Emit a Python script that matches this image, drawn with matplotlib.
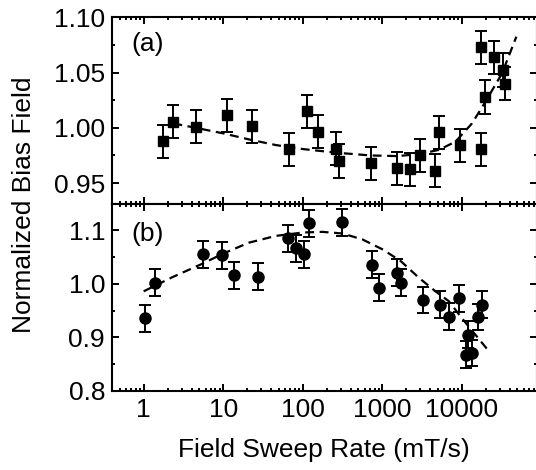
import numpy as np
import matplotlib
matplotlib.use("Agg")
import matplotlib.pyplot as plt
from matplotlib.ticker import LogLocator, MultipleLocator, NullFormatter, FixedLocator

plt.rcParams['font.family'] = ['Liberation Sans', 'DejaVu Sans']

# panel (a): squares
rate_a = [1.73, 2.36, 4.54, 11.3, 22.7, 67.3, 114, 156, 263, 285, 713, 1540,
          2220, 2935, 4570, 5230, 9410, 17400, 17400, 19800, 25100, 32900, 35200]
bias_a = [0.988, 1.0055, 1.001, 1.0113, 1.0016, 0.9805, 1.0152, 0.9965, 0.981,
          0.970, 0.9678, 0.9633, 0.9624, 0.9753, 0.9611, 0.9959, 0.9841, 0.9805,
          1.073, 1.028, 1.064, 1.0524, 1.040]
err_a = [0.015] * len(rate_a)

fit_rate_a = [2.36, 4.54, 10, 22.7, 46, 100, 263, 713, 1540, 2900, 5100, 8300,
              13400, 19800, 32000, 48400]
fit_bias_a = [1.004, 1.000, 0.995, 0.989, 0.9844, 0.9808, 0.9775, 0.975, 0.9744,
              0.9762, 0.980, 0.9874, 1.004, 1.0237, 1.0494, 1.0826]

# panel (b): circles
rate_b = [1.04, 1.39, 5.5, 9.6, 13.7, 27.7, 66, 81.7, 104, 120, 314, 746, 906,
          1540, 1700, 3230, 5280, 6850, 9140, 11900, 11400, 13400, 16000, 17900]
bias_b = [0.936, 1.002, 1.055, 1.053, 1.016, 1.013, 1.085, 1.066, 1.055, 1.113,
          1.115, 1.036, 0.993, 1.021, 1.002, 0.970, 0.961, 0.939, 0.973, 0.905,
          0.868, 0.871, 0.938, 0.961]
err_b = [0.025] * len(rate_b)

fit_rate_b = [1, 2.31, 5.5, 10, 21.2, 46, 100, 176, 314, 560, 1000, 1700, 2880,
              4660, 6850, 10000, 14800, 21100]
fit_bias_b = [0.986, 1.0126, 1.0377, 1.0565, 1.077, 1.0895, 1.0958, 1.097, 1.094,
              1.083, 1.0645, 1.0426, 1.0114, 0.986, 0.9676, 0.936, 0.905, 0.877]

fig = plt.figure(figsize=(5.36, 4.70), dpi=100)
left, right = 112 / 536, 537 / 536
ax1 = fig.add_axes([left, 1 - 204 / 470, right - left, (204 - 17.5) / 470])
ax2 = fig.add_axes([left, 1 - 391 / 470, right - left, (391 - 204) / 470])

for ax in (ax1, ax2):
    ax.set_xscale('log')
    ax.set_xlim(0.4, 88000)
    ax.xaxis.set_major_locator(FixedLocator([1, 10, 100, 1000, 10000]))
    ax.xaxis.set_minor_locator(LogLocator(base=10, subs=np.arange(2, 10), numticks=20))
    ax.xaxis.set_minor_formatter(NullFormatter())
    ax.tick_params(which='both', direction='in', top=True, right=True, width=1.4,
                   labelsize=19)
    ax.tick_params(which='major', length=5, pad=5)
    ax.tick_params(which='minor', length=2.5)
    for s in ax.spines.values():
        s.set_linewidth(1.5)

ax1.errorbar(rate_a, bias_a, yerr=err_a, fmt='s', color='black', ms=7,
             elinewidth=1.4, capsize=4, capthick=1.4)
ax1.plot(fit_rate_a, fit_bias_a, color='black', lw=1.6, ls=(0, (4, 2.5)))
ax1.set_ylim(0.931, 1.10)
ax1.yaxis.set_major_locator(FixedLocator([0.95, 1.00, 1.05, 1.10]))
ax1.yaxis.set_minor_locator(MultipleLocator(0.025))
ax1.set_yticklabels(['0.95', '1.00', '1.05', '1.10'])
ax1.tick_params(labelbottom=False)
ax1.text(0.045, 0.82, '(a)', transform=ax1.transAxes, fontsize=19)

ax2.errorbar(rate_b, bias_b, yerr=err_b, fmt='o', color='black', ms=8,
             elinewidth=1.4, capsize=4, capthick=1.4)
ax2.plot(fit_rate_b, fit_bias_b, color='black', lw=1.6, ls=(0, (4, 2.5)))
ax2.set_ylim(0.8, 1.149)
ax2.yaxis.set_major_locator(FixedLocator([0.8, 0.9, 1.0, 1.1]))
ax2.yaxis.set_minor_locator(MultipleLocator(0.05))
ax2.set_yticklabels(['0.8', '0.9', '1.0', '1.1'])
ax2.set_xticklabels(['1', '10', '100', '1000', '10000'])
ax2.text(0.045, 0.8, '(b)', transform=ax2.transAxes, fontsize=19)

fig.text(24 / 536, 1 - 205 / 470, 'Normalized Bias Field', rotation=90,
         ha='center', va='center', fontsize=19)
fig.text(324 / 536, 1 - 450 / 470, 'Field Sweep Rate (mT/s)',
         ha='center', va='center', fontsize=19)

fig.savefig('out.png', dpi=100)
